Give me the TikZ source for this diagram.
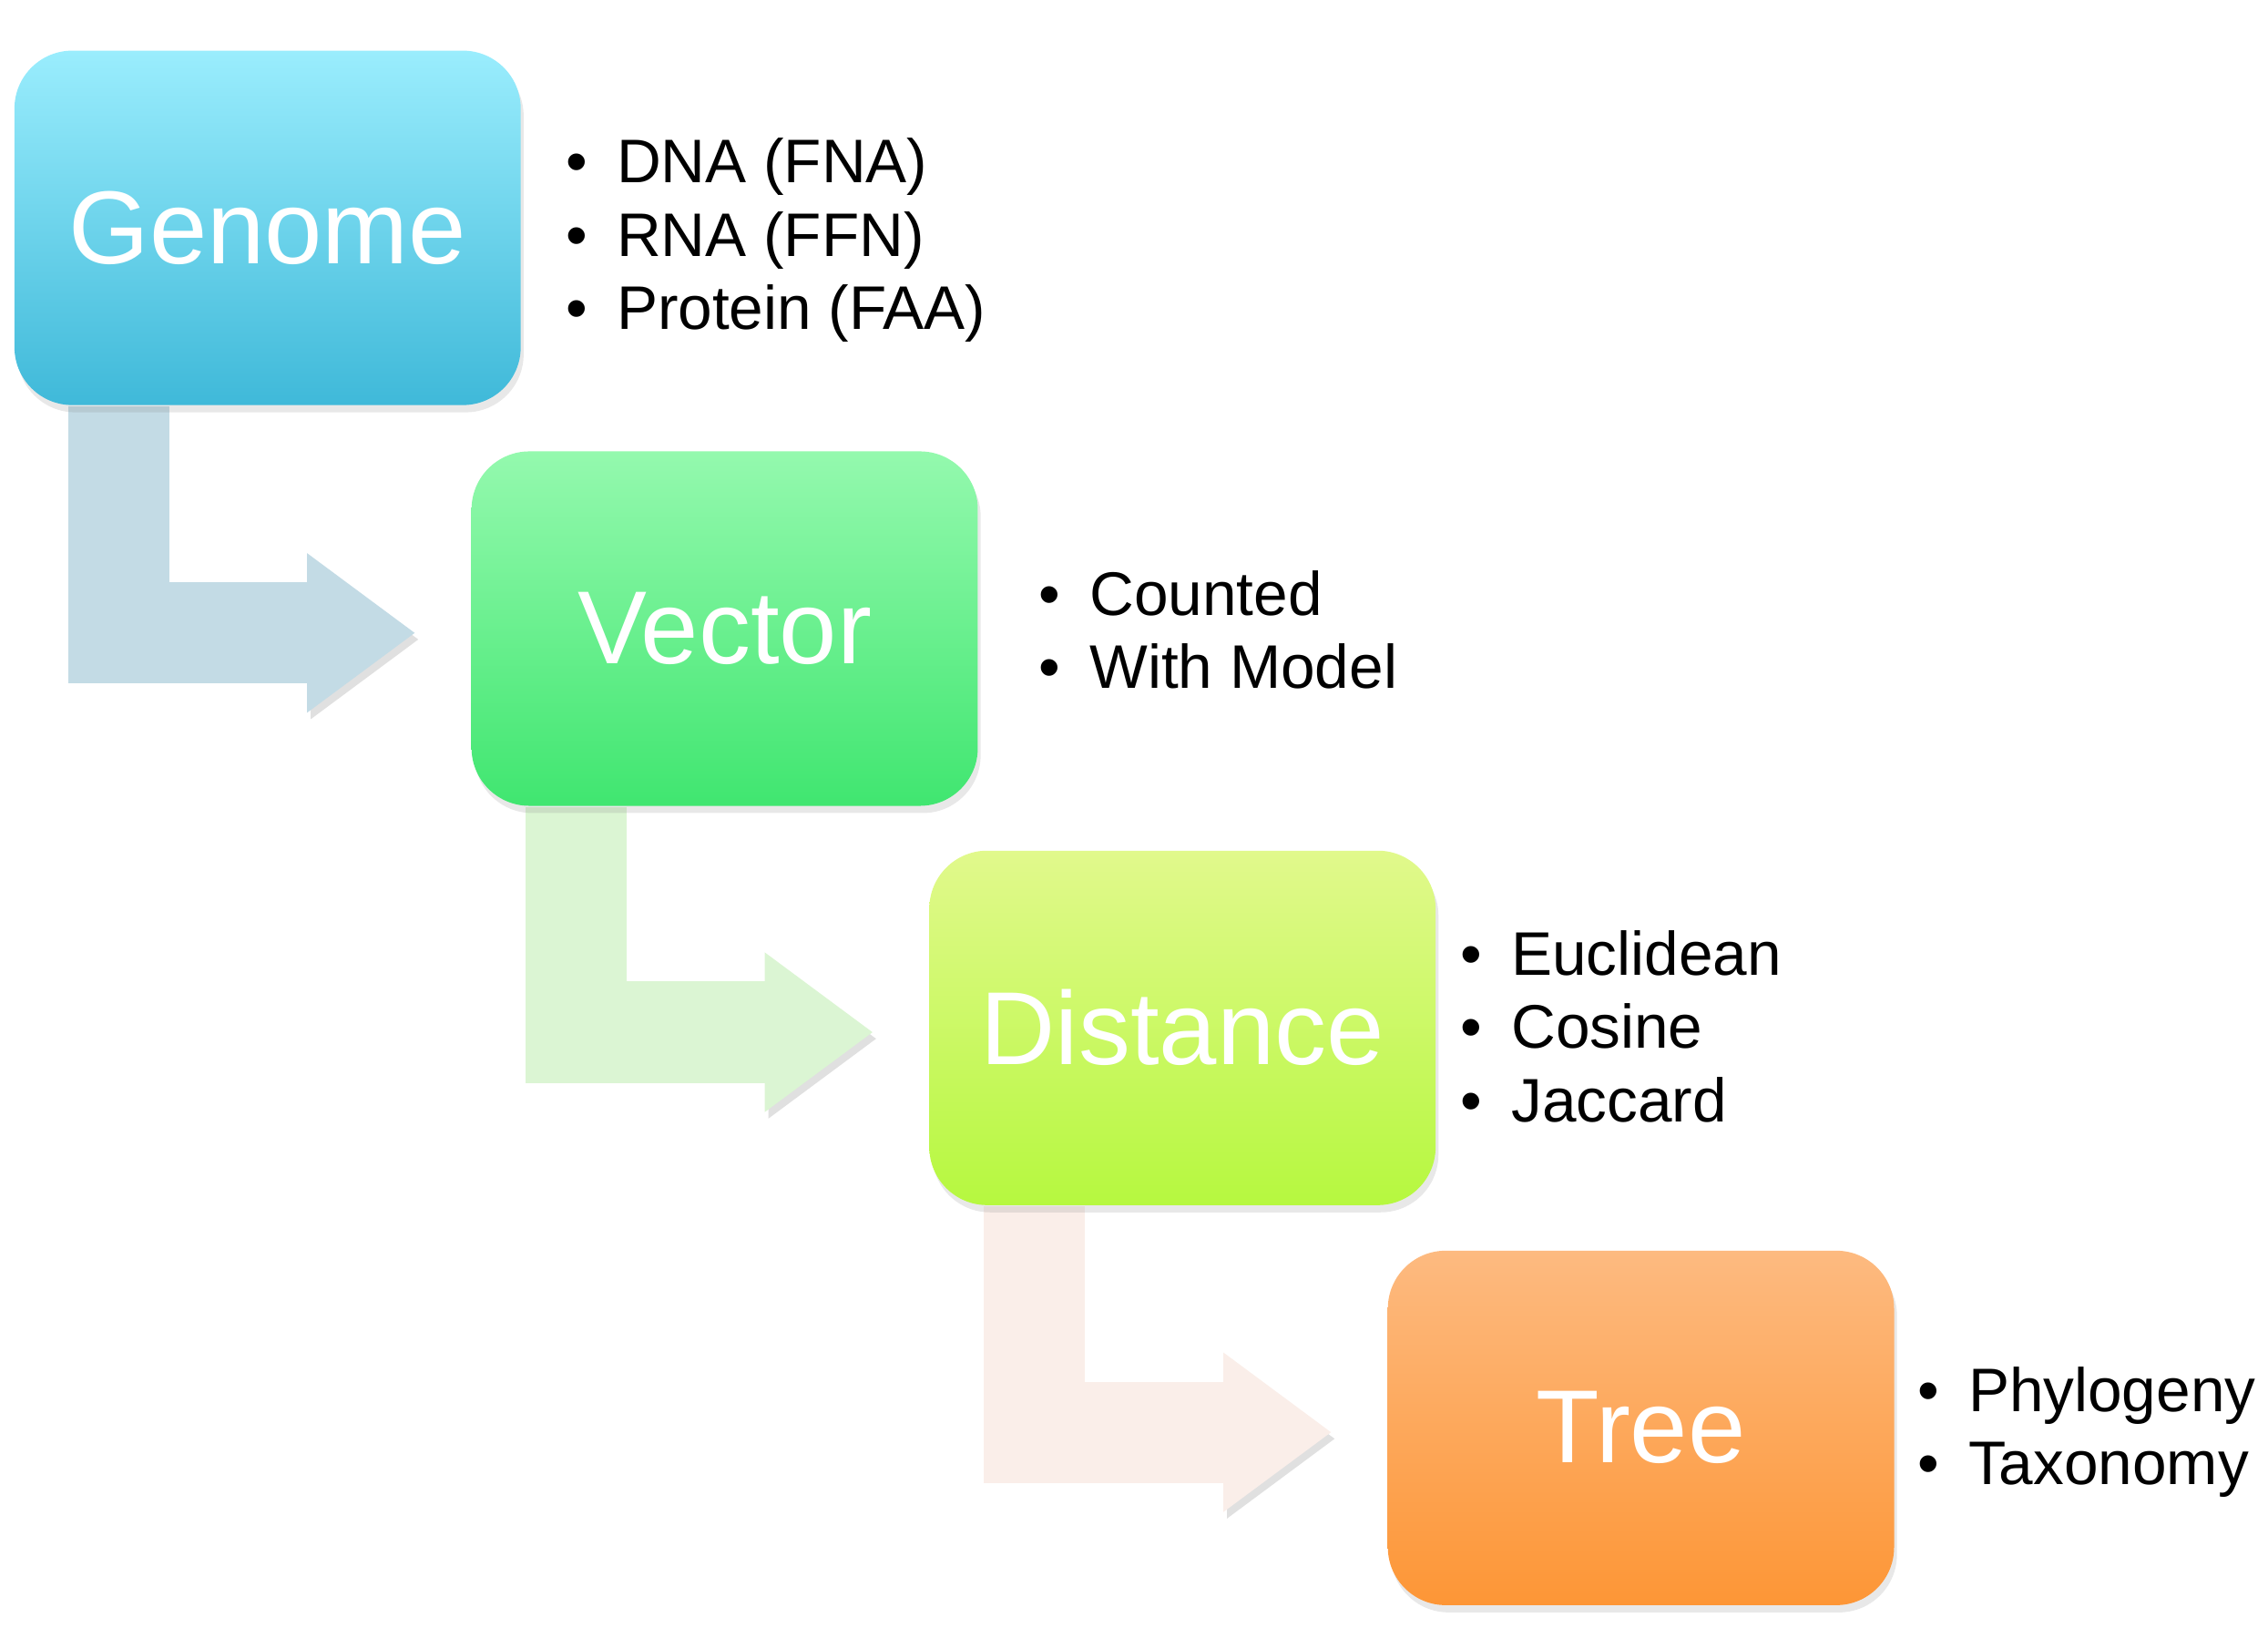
\documentclass[tikz,border=0pt]{standalone}
\usepackage{fontspec}
\setmainfont{Liberation Sans}
\usepackage{xcolor}
\usepackage{tikz}
\usetikzlibrary{calc,arrows.meta,shadows,backgrounds}
\definecolor{genomeTop}{HTML}{9AEDFD}
\definecolor{genomeBot}{HTML}{3FB9D9}
\definecolor{vectorTop}{HTML}{94F9AE}
\definecolor{vectorBot}{HTML}{40E670}
\definecolor{distTop}{HTML}{E1F98C}
\definecolor{distBot}{HTML}{B6F83F}
\definecolor{treeTop}{HTML}{FDBA80}
\definecolor{treeBot}{HTML}{FD9636}
\definecolor{flowA}{HTML}{C3DBE5}
\definecolor{flowB}{HTML}{DBF5D3}
\definecolor{flowC}{HTML}{FAEEE9}
\newcommand{\itm}[1]{\makebox[3.5mm][l]{\textbullet}#1}
\tikzset{
  stage/.style={rounded corners=4mm, minimum width=35mm, minimum height=24.5mm,
    inner sep=0pt, text=white, font=\fontsize{20.4}{24}\selectfont,
    drop shadow={shadow xshift=0.2mm, shadow yshift=-0.5mm, opacity=0.18}},
  flow/.style={draw=#1, line width=7mm, line join=miter,
    -{Triangle[length=7.5mm,width=10.5mm]},
    preaction={draw=black!12, transform canvas={shift={(0.25mm,-0.45mm)}}}},
  items/.style={anchor=west, align=left, inner sep=0pt, text=black,
    font=\fontsize{12.1}{14.4}\selectfont},
}

\begin{document}
\begin{tikzpicture}[x=0.1mm,y=-0.1mm]
  \useasboundingbox (0,0) rectangle (1568,1125);

  % stage boxes
  \node[stage, top color=genomeTop, bottom color=genomeBot] (genome) at (185,157.5) {Genome};
  \node[stage, top color=vectorTop, bottom color=vectorBot] (vector) at (501,434.5) {Vector};
  \node[stage, top color=distTop, bottom color=distBot] (distance) at (817.5,710.5) {Distance};
  \node[stage, top color=treeTop, bottom color=treeBot] (tree) at (1134.5,987) {Tree};

  % bent arrows, behind the boxes
  \begin{scope}[on background layer]
    \foreach \a/\b/\c in {genome/vector/flowA, vector/distance/flowB, distance/tree/flowC}{
      \draw[flow=\c] ($(\a.south west)+(73,0)$) |- ($(\b.west)+(-38,3)$);
    }
  \end{scope}

  % bullet lists
  \node[items] (genomeList) at ($(genome.east)+(30,8.5)$)
    {\itm{DNA (FNA)}\\\itm{RNA (FFN)}\\\itm{Protein (FAA)}};
  \node[items] (vectorList) at ($(vector.east)+(41,1)$)
    {\itm{Counted}\\\itm{With Model}};
  \node[items] (distanceList) at ($(distance.east)+(16,-1)$)
    {\itm{Euclidean}\\\itm{Cosine}\\\itm{Jaccard}};
  \node[items] (treeList) at ($(tree.east)+(15,3)$)
    {\itm{Phylogeny}\\\itm{Taxonomy}};
\end{tikzpicture}
\end{document}
